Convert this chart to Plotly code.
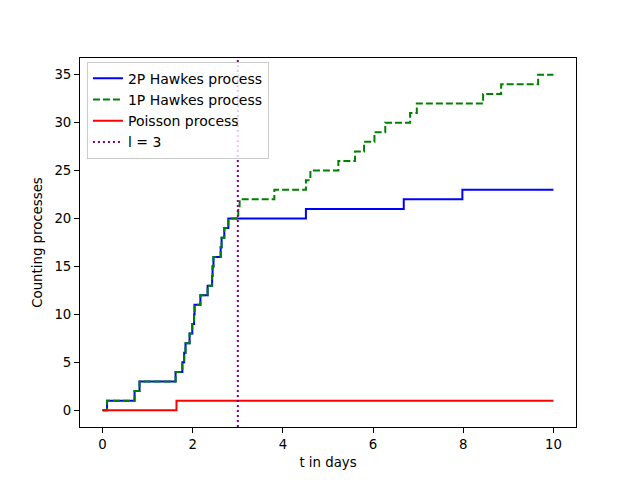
import plotly.graph_objects as go

# Event times (days) and counting values
t_end = 10.0
common_times = [0.10, 0.71, 0.82, 1.62, 1.77, 1.81, 1.84, 1.93, 1.99, 2.03,
                2.04, 2.17, 2.33, 2.43, 2.44, 2.46, 2.62, 2.64, 2.70, 2.79]
hawkes2p_extra = [4.51, 6.68, 7.98]
hawkes1p_extra = [3.01, 3.04, 3.81, 4.51, 4.61, 5.23, 5.60, 5.80, 6.03, 6.27,
                  6.82, 6.97, 8.44, 8.84, 9.66]
poisson_times = [1.64]
l_value = 3
y_range = [-1.75, 36.75]


def step_series(events):
    xs = [0.0] + list(events) + [t_end]
    ys = list(range(len(events) + 1)) + [len(events)]
    return xs, ys


x2, y2 = step_series(common_times + hawkes2p_extra)
x1, y1 = step_series(common_times + hawkes1p_extra)
xp, yp = step_series(poisson_times)

fig = go.Figure()
fig.add_trace(go.Scatter(x=x2, y=y2, mode="lines", line=dict(color="blue", width=2, shape="hv"),
                         name="2P Hawkes process"))
fig.add_trace(go.Scatter(x=x1, y=y1, mode="lines",
                         line=dict(color="green", width=2, shape="hv", dash="7px,3px"),
                         name="1P Hawkes process"))
fig.add_trace(go.Scatter(x=xp, y=yp, mode="lines", line=dict(color="red", width=2, shape="hv"),
                         name="Poisson process"))
fig.add_trace(go.Scatter(x=[l_value, l_value], y=y_range, mode="lines",
                         line=dict(color="purple", width=2, dash="2px,3px"),
                         name="l = 3"))

axis_common = dict(showline=True, linecolor="black", linewidth=1, mirror=True,
                   ticks="outside", ticklen=5, tickcolor="black", showgrid=False,
                   zeroline=False, automargin=False,
                   tickfont=dict(size=13.3, color="black"))

# page body has an 8px margin, so the figure is drawn at 632x472 with offsets
fig.update_layout(
    width=632, height=472,
    margin=dict(l=72, r=64, t=50, b=53),
    plot_bgcolor="white", paper_bgcolor="white",
    font=dict(family="DejaVu Sans", size=13.3, color="black"),
    xaxis=dict(range=[-0.5, 10.5], tickvals=[0, 2, 4, 6, 8, 10],
               title=dict(text="t in days", standoff=6, font=dict(size=13.3)), **axis_common),
    yaxis=dict(range=y_range, tickvals=[0, 5, 10, 15, 20, 25, 30, 35],
               title=dict(text="Counting processes", standoff=8, font=dict(size=13.3)), **axis_common),
    legend=dict(x=0.014, y=0.99, xanchor="left", yanchor="top",
                bgcolor="rgba(255,255,255,0.8)", bordercolor="#cccccc", borderwidth=1,
                font=dict(size=14), tracegroupgap=0),
    showlegend=True,
)

fig.write_html("out.html")
